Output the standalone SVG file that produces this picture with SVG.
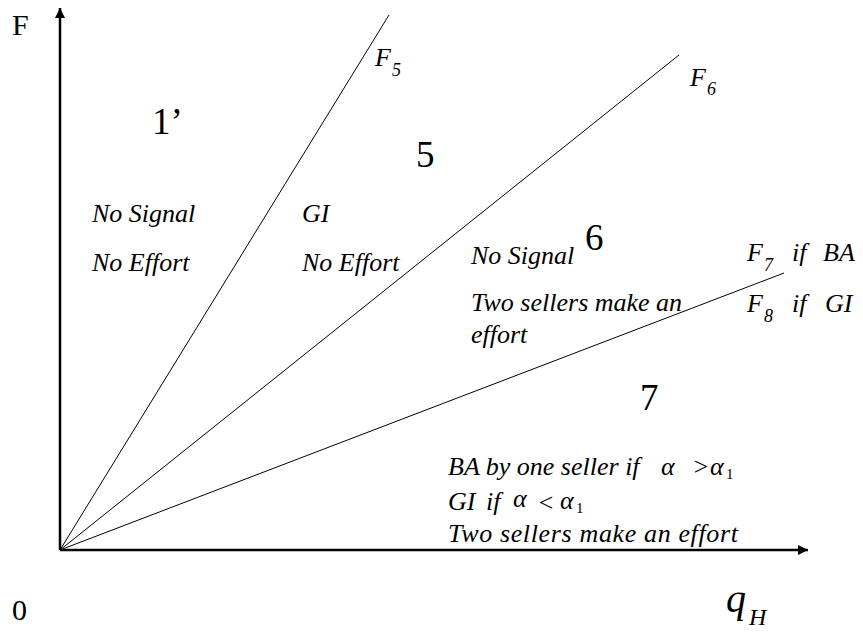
<svg xmlns="http://www.w3.org/2000/svg" width="863" height="633" viewBox="0 0 863 633">
<defs>
<marker id="ah" viewBox="0 0 10 10" refX="10" refY="5" markerWidth="10" markerHeight="10" markerUnits="userSpaceOnUse" orient="auto"><path d="M0,0 L10,5 L0,10 Z" fill="#000"/></marker>
</defs>
<style>
text{font-family:"Liberation Serif","Times New Roman",serif;fill:#000}
.it{font-style:italic}
.lab{font-size:26px;font-style:italic}
.big{font-size:37px}
.fl{font-size:26px;font-style:italic}
.sub{font-size:18px;font-style:italic}
.s1{font-size:15px}
.ax{stroke:#000;stroke-width:2.5;fill:none}
.bd{stroke:#000;stroke-width:1;fill:none}
</style>
<rect width="863" height="633" fill="#fff"/>
<g id="axes">
<line class="ax" x1="60" y1="550" x2="60" y2="8" marker-end="url(#ah)"/>
<line class="ax" x1="60" y1="550" x2="808" y2="550" marker-end="url(#ah)"/>
<text x="12" y="35" font-size="30">F</text>
<text x="12" y="620" font-size="30">0</text>
<text x="726" y="612" font-size="40" class="it">q</text>
<text x="749" y="625" font-size="24" class="it">H</text>
</g>
<g id="connectors">
<line class="bd" x1="60" y1="550" x2="389" y2="15"/>
<line class="bd" x1="60" y1="550" x2="679" y2="55"/>
<line class="bd" x1="60" y1="550" x2="784" y2="273"/>
</g>
<g id="F5"><text x="375" y="66" class="fl">F</text><text x="392" y="76" class="sub">5</text></g>
<g id="F6"><text x="690" y="86" class="fl">F</text><text x="707" y="95" class="sub">6</text></g>
<g id="F7F8">
<text x="747" y="261" class="fl">F</text><text x="764" y="271" class="sub">7</text><text x="792" y="261" class="fl">if</text><text x="823" y="261" class="fl">BA</text>
<text x="747" y="312" class="fl">F</text><text x="764" y="322" class="sub">8</text><text x="792" y="312" class="fl">if</text><text x="825" y="312" class="fl">GI</text>
</g>
<g id="region1">
<text x="152" y="134" class="big">1’</text>
<text x="92" y="222" class="lab">No Signal</text>
<text x="92" y="271" class="lab">No Effort</text>
</g>
<g id="region5">
<text x="416" y="167" class="big">5</text>
<text x="302" y="222" class="lab">GI</text>
<text x="302" y="271" class="lab">No Effort</text>
</g>
<g id="region6">
<text x="585" y="250" class="big">6</text>
<text x="471" y="264" class="lab">No Signal</text>
<text x="471" y="311" class="lab">Two sellers make an</text>
<text x="471" y="343" class="lab">effort</text>
</g>
<g id="region7">
<text x="640" y="410" class="big">7</text>
<text x="448" y="475" class="lab">BA by one seller if</text>
<text x="661" y="475" class="lab">α</text>
<text x="692" y="475" class="lab">&gt;</text>
<text x="710" y="475" class="lab">α</text>
<text x="726" y="479" class="s1">1</text>
<text x="448" y="510" class="lab">GI</text>
<text x="486" y="510" class="lab">if</text>
<text x="513" y="507" class="lab">α</text>
<text x="537" y="511" class="lab">&lt;</text>
<text x="560" y="509" class="lab">α</text>
<text x="576" y="513" class="s1">1</text>
<text x="448" y="542" class="lab" textLength="290" lengthAdjust="spacing">Two  sellers make an effort</text>
</g>
</svg>
